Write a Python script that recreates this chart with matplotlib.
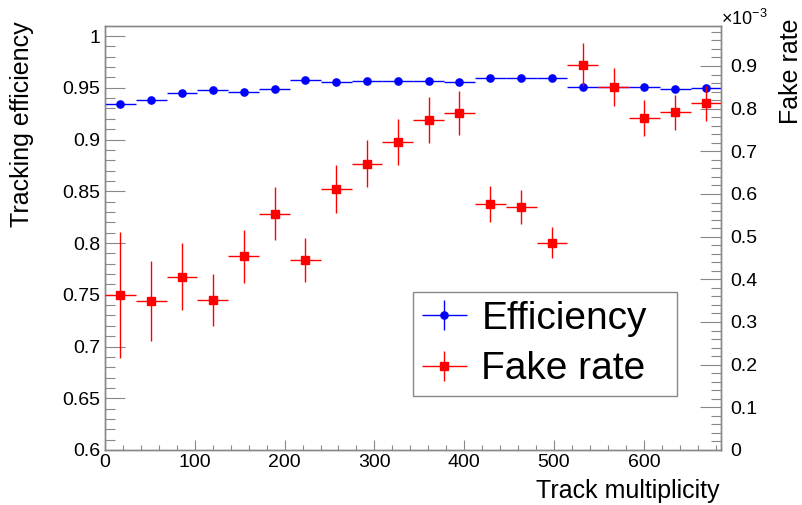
import numpy as np
import matplotlib
matplotlib.use("Agg")
import matplotlib.pyplot as plt
from matplotlib.ticker import MultipleLocator, FuncFormatter
from matplotlib.legend_handler import HandlerErrorbar
from matplotlib.container import ErrorbarContainer

plt.rcParams['font.family'] = ['Liberation Sans', 'DejaVu Sans']
plt.rcParams['mathtext.fontset'] = 'custom'
plt.rcParams['mathtext.rm'] = 'Liberation Sans'
plt.rcParams['mathtext.it'] = 'Liberation Sans:italic'

# ---------------- data ----------------
x_min, x_max, n_bins = 0.0, 686.5, 20
efficiency = [0.9340, 0.9379, 0.9452, 0.9478, 0.9462, 0.9488, 0.9578, 0.9553,
              0.9565, 0.9565, 0.9568, 0.9553, 0.9591, 0.9591, 0.9591, 0.9504,
              0.9510, 0.9504, 0.9485, 0.9500]
efficiency_err = [0.0020, 0.0018, 0.0016, 0.0015, 0.0015, 0.0015, 0.0014, 0.0014,
                  0.0014, 0.0014, 0.0014, 0.0014, 0.0014, 0.0014, 0.0014, 0.0014,
                  0.0014, 0.0015, 0.0015, 0.0016]
# fake rate in units of 1e-3
fake_rate = [0.363, 0.349, 0.406, 0.351, 0.454, 0.554, 0.445, 0.611,
             0.671, 0.722, 0.774, 0.790, 0.576, 0.569, 0.486, 0.903,
             0.851, 0.779, 0.792, 0.813]
fake_rate_err = [0.148, 0.093, 0.078, 0.061, 0.062, 0.062, 0.051, 0.056,
                 0.055, 0.054, 0.054, 0.052, 0.042, 0.040, 0.036, 0.050,
                 0.045, 0.042, 0.041, 0.041]
eff_ticks = [0.6, 0.65, 0.7, 0.75, 0.8, 0.85, 0.9, 0.95, 1.0]
fake_ticks = [0, 0.1, 0.2, 0.3, 0.4, 0.5, 0.6, 0.7, 0.8, 0.9]
x_ticks = [0, 100, 200, 300, 400, 500, 600]

edges = np.linspace(x_min, x_max, n_bins + 1)
centers = 0.5 * (edges[:-1] + edges[1:])
half_w = 0.5 * (edges[1:] - edges[:-1])

# ---------------- figure ----------------
W, H = 803, 505
fig = plt.figure(figsize=(W / 100, H / 100), dpi=100)
ax = fig.add_axes([105 / W, 55 / H, 616.5 / W, 424 / H])
ax2 = ax.twinx()

frame_col = '#888888'
for a in (ax, ax2):
    for s in a.spines.values():
        s.set_color(frame_col)
        s.set_linewidth(1.0)

eb1 = ax.errorbar(centers, efficiency, yerr=efficiency_err, xerr=half_w,
                  fmt='o', color='blue', ecolor='blue', elinewidth=1.0,
                  markersize=5.2, capsize=0, zorder=3)
eb2 = ax2.errorbar(centers, fake_rate, yerr=fake_rate_err, xerr=half_w,
                   fmt='s', color='red', ecolor='red', elinewidth=1.0,
                   markersize=5.3, capsize=0, zorder=3)

ax.set_xlim(x_min, x_max)
ax.set_ylim(0.6, 1.0097)
ax2.set_ylim(0, 0.9937)

fmt = FuncFormatter(lambda v, p: '%g' % round(v, 4))
ax.set_xticks(x_ticks)
ax.xaxis.set_minor_locator(MultipleLocator(20))
ax.set_yticks(eff_ticks)
ax.yaxis.set_minor_locator(MultipleLocator(0.01))
ax.yaxis.set_major_formatter(fmt)
ax2.set_yticks(fake_ticks)
ax2.yaxis.set_minor_locator(MultipleLocator(0.02))
ax2.yaxis.set_major_formatter(fmt)

tfs = 14
ax.tick_params(axis='x', which='both', direction='in', top=False, color=frame_col,
               labelsize=tfs, pad=3, width=0.8)
ax.tick_params(axis='x', which='major', length=7.2)
ax.tick_params(axis='x', which='minor', length=3.8)
ax.tick_params(axis='y', which='both', direction='in', right=False, color=frame_col,
               labelsize=tfs, pad=3.6, width=0.8)
ax.tick_params(axis='y', which='major', length=14.4)
ax.tick_params(axis='y', which='minor', length=7.0)
ax2.tick_params(axis='y', which='both', direction='in', left=False, right=True,
                color=frame_col, labelsize=tfs, pad=6, width=0.8)
ax2.tick_params(axis='y', which='major', length=15)
ax2.tick_params(axis='y', which='minor', length=7.0)

# axis titles
fig.text(720 / W, 1 - 498 / H, 'Track multiplicity', ha='right', va='baseline', fontsize=18)
fig.text(22 / W, 1 - 21 / H, 'Tracking efficiency', rotation=90, ha='center', va='top', fontsize=18)
fig.text(791 / W, 1 - 18 / H, 'Fake rate', rotation=90, ha='center', va='top', fontsize=18)
fig.text(721 / W, 1 - 25 / H, r'$\times10^{-3}$', ha='left', va='baseline', fontsize=13)

# legend
leg = ax2.legend([eb1, eb2], ['Efficiency', 'Fake rate'],
                 loc='upper left', bbox_to_anchor=(413 / W, 1 - 297 / H, 264 / W, 0.01),
                 bbox_transform=fig.transFigure, mode='expand', borderaxespad=0,
                 fontsize=28, frameon=True, fancybox=False, framealpha=1,
                 edgecolor=frame_col, borderpad=0.22, labelspacing=0.38,
                 handlelength=1.18, handletextpad=0.36,
                 handler_map={ErrorbarContainer: HandlerErrorbar(xerr_size=0.59, yerr_size=0.39)})
leg.get_frame().set_linewidth(1.0)

fig.savefig('out.png', dpi=100)
